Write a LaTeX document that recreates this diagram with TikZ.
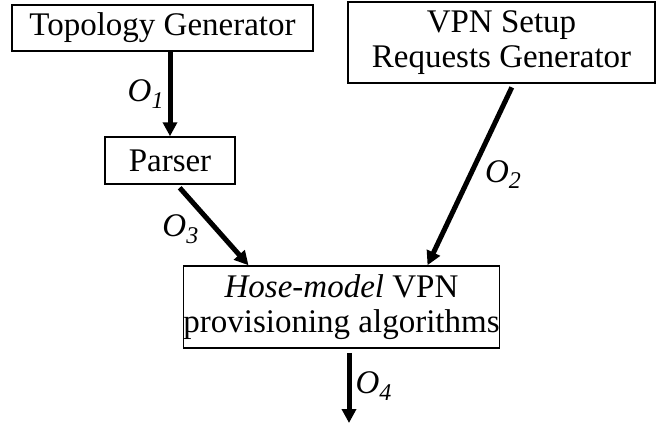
\documentclass[tikz,border=0pt]{standalone}
\usepackage{fontspec}
\setmainfont{Liberation Serif}
\usetikzlibrary{arrows.meta, positioning}

\newcommand{\outlbl}[1]{O\raisebox{-0.45ex}{\fontsize{12}{12}\selectfont #1}}

\begin{document}
\begin{tikzpicture}[
        x=0.5pt, y=-0.5pt,
        block/.style={rectangle, draw=black, line width=0.75pt, inner sep=0pt, align=center, font=\fontsize{16.5}{17.5}\selectfont},
        flow/.style={line width=2.5pt, -{Triangle[length=7pt, width=7pt]}},
        lbl/.style={font=\fontsize{16.5}{17.5}\selectfont\itshape, inner sep=2pt}
    ]
        \useasboundingbox (0,0) rectangle (656,425);

        % Blocks
        \node[block, minimum width=150.5pt, minimum height=23pt] (topology) at (162.5, 28) {Topology Generator};
        \node[block, minimum width=65pt, minimum height=23.5pt] (parser) at (170, 160.5) {Parser};
        \node[block, minimum width=153.5pt, minimum height=40.5pt] (vpnreq) at (501.5, 42.5) {VPN Setup\\Requests Generator};
        \node[block, minimum width=157.5pt, minimum height=41pt] (hose) at (341.5, 307) {\textit{Hose-model} VPN\\provisioning algorithms};
        \coordinate (out) at (349, 423);

        % Flows
        \draw[flow] (parser.north |- topology.south) -- (parser.north)
            node[lbl, midway, left] {\outlbl{1}};
        \draw[flow, shorten <=2pt] ([xshift=6pt]vpnreq.south) -- ([xshift=43pt]hose.north)
            node[lbl, midway, right, xshift=4pt] {\outlbl{2}};
        \draw[flow, shorten <=2pt] ([xshift=3.5pt]parser.south) -- ([xshift=-46.5pt]hose.north)
            node[lbl, midway, left, xshift=-4pt, yshift=-2pt] {\outlbl{3}};
        \draw[flow, shorten <=2pt] (hose.south -| out) -- (out)
            node[lbl, midway, right] {\outlbl{4}};
    \end{tikzpicture}
\end{document}
